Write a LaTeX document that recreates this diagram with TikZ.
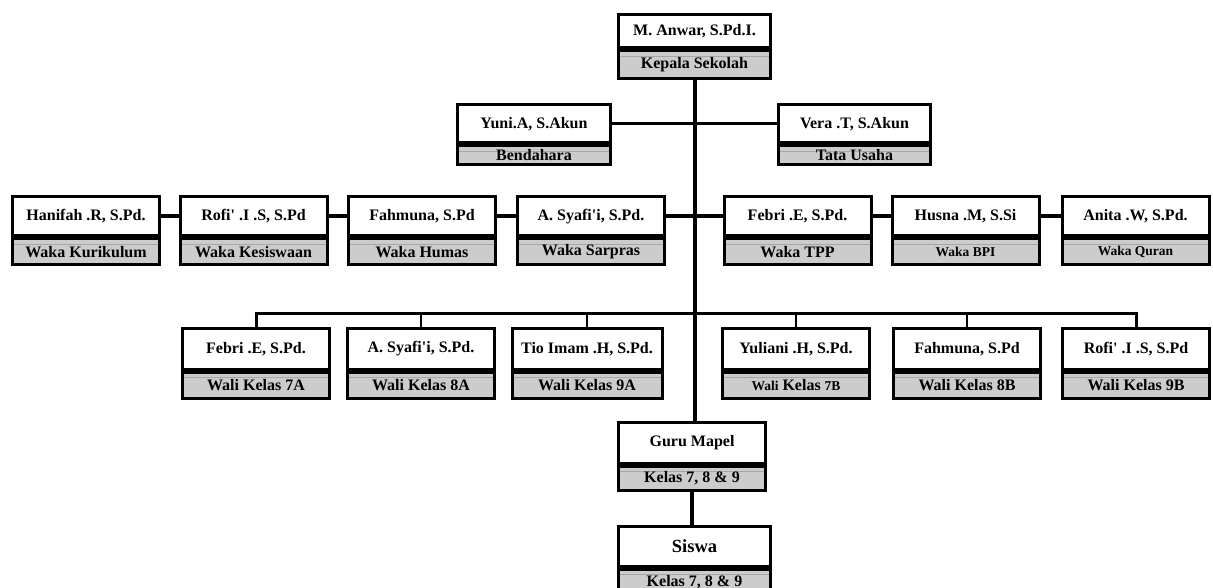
\documentclass[tikz,border=0pt]{standalone}
\usepackage{fontspec}
\setmainfont{Liberation Serif}
\usetikzlibrary{positioning}

\begin{document}
\begin{tikzpicture}[x=1pt, y=-1pt,
            namebox/.style={rectangle, draw, line width=3pt, fill=white, inner sep=0pt, minimum width=147pt, font=\fontsize{16}{19}\selectfont\bfseries},
            rolebox/.style={rectangle, draw, line width=3pt, fill=gray!40, inner sep=0pt, minimum width=147pt, font=\fontsize{16}{19}\selectfont\bfseries,
                path picture={\draw[gray!70, line width=1.5pt] ([yshift=-5.5pt]path picture bounding box.north west) -- ([yshift=-5.5pt]path picture bounding box.north east);}},
            link/.style={line width=3pt},
            trunk/.style={line width=4pt},
            smallrole/.style={font=\fontsize{13.5}{16}\selectfont\bfseries},
            ]
            \useasboundingbox (0,0) rectangle (1213,588);
            % kepala sekolah
            \node[namebox, minimum width=152pt, minimum height=33.5pt] (kepsek) at (694.5,31.25) {M. Anwar, S.Pd.I.};
            \node[rolebox, minimum width=152pt, minimum height=27.5pt, below=0pt of kepsek] (kepsek-lbl) {Kepala Sekolah};
            % bendahara dan tata usaha
            \node[namebox, minimum width=153pt, minimum height=38.5pt] (bendahara) at (534,123.75) {Yuni.A, S.Akun};
            \node[rolebox, minimum width=153pt, minimum height=18.5pt, below=0pt of bendahara] (bendahara-lbl) {Bendahara};
            \node[namebox, minimum width=152pt, minimum height=38.5pt] (tu) at (854.5,123.75) {Vera .T, S.Akun};
            \node[rolebox, minimum width=152pt, minimum height=18.5pt, below=0pt of tu] (tu-lbl) {Tata Usaha};
            % wakil kepala
            \node[namebox, minimum height=39.5pt] (kurikulum) at (86,216.25) {Hanifah .R, S.Pd.};
            \node[rolebox, minimum height=25.5pt, below=0pt of kurikulum] (kurikulum-lbl) {Waka Kurikulum};
            \node[namebox, minimum height=39.5pt] (kesiswaan) at (253.5,216.25) {Rofi\textquotesingle{} .I .S, S.Pd};
            \node[rolebox, minimum height=25.5pt, below=0pt of kesiswaan] (kesiswaan-lbl) {Waka Kesiswaan};
            \node[namebox, minimum height=39.5pt] (humas) at (422,216.25) {Fahmuna, S.Pd};
            \node[rolebox, minimum height=25.5pt, below=0pt of humas] (humas-lbl) {Waka Humas};
            \node[namebox, minimum height=39.5pt] (sarpras) at (591,216.25) {A. Syafi\textquotesingle{}i, S.Pd.};
            \node[rolebox, minimum height=25.5pt, below=0pt of sarpras] (sarpras-lbl) {Waka Sarpras};
            \node[namebox, minimum height=39.5pt] (tpp) at (797.5,216.25) {Febri .E, S.Pd.};
            \node[rolebox, minimum height=25.5pt, below=0pt of tpp] (tpp-lbl) {Waka TPP};
            \node[namebox, minimum height=39.5pt] (bpi) at (965.5,216.25) {Husna .M, S.Si};
            \node[rolebox, smallrole, minimum height=25.5pt, below=0pt of bpi] (bpi-lbl) {Waka BPI};
            \node[namebox, minimum height=39.5pt] (quran) at (1135.5,216.25) {Anita .W, S.Pd.};
            \node[rolebox, smallrole, minimum height=25.5pt, below=0pt of quran] (quran-lbl) {Waka Quran};
            % wali kelas
            \node[namebox, minimum height=40.5pt] (wk7a) at (256,348.75) {Febri .E, S.Pd.};
            \node[rolebox, minimum height=26.5pt, below=0pt of wk7a] (wk7a-lbl) {Wali Kelas 7A};
            \node[namebox, minimum height=40.5pt] (wk8a) at (421,348.75) {A. Syafi\textquotesingle{}i, S.Pd.};
            \node[rolebox, minimum height=26.5pt, below=0pt of wk8a] (wk8a-lbl) {Wali Kelas 8A};
            \node[namebox, minimum width=150pt, minimum height=40.5pt] (wk9a) at (587,348.75) {Tio Imam .H, S.Pd.};
            \node[rolebox, minimum width=150pt, minimum height=26.5pt, below=0pt of wk9a] (wk9a-lbl) {Wali Kelas 9A};
            \node[namebox, minimum height=40.5pt] (wk7b) at (796,348.75) {Yuliani .H, S.Pd.};
            \node[rolebox, minimum height=26.5pt, below=0pt of wk7b] (wk7b-lbl) {{\fontsize{13.5}{16}\selectfont Wali} Kelas {\fontsize{13.5}{16}\selectfont 7B}};
            \node[namebox, minimum height=40.5pt] (wk8b) at (967,348.75) {Fahmuna, S.Pd};
            \node[rolebox, minimum height=26.5pt, below=0pt of wk8b] (wk8b-lbl) {Wali Kelas 8B};
            \node[namebox, minimum height=40.5pt] (wk9b) at (1136,348.75) {Rofi\textquotesingle{} .I .S, S.Pd};
            \node[rolebox, minimum height=26.5pt, below=0pt of wk9b] (wk9b-lbl) {Wali Kelas 9B};
            % guru dan siswa
            \node[namebox, minimum height=40.5pt] (guru) at (692,442.75) {Guru Mapel};
            \node[rolebox, minimum height=24.5pt, below=0pt of guru] (guru-lbl) {Kelas 7, 8 \& 9};
            \node[namebox, minimum width=152pt, minimum height=39.5pt, font=\fontsize{18.5}{22}\selectfont\bfseries] (siswa) at (694.5,546.25) {Siswa};
            \node[rolebox, minimum width=152pt, minimum height=26pt, below=0pt of siswa] (siswa-lbl) {Kelas 7, 8 \& 9};
            % garis
            \coordinate (bus) at (694.5,313);
            \draw[trunk] (kepsek-lbl.south) -- (kepsek-lbl.south |- guru.north);
            \draw[link] (bendahara.east) -- (tu.west);
            \foreach \a/\b in {kurikulum/kesiswaan, kesiswaan/humas, humas/sarpras, sarpras/tpp, tpp/bpi, bpi/quran}
                \draw[link, line width=3.5pt] (\a.east) -- (\b.west);
            \draw[link] (wk7a.north) |- (bus) -| (wk9b.north);
            \foreach \n in {wk8a, wk9a, wk7b, wk8b}
                \draw[link, line width=2.5pt] (\n.north) -- (\n.north |- bus);
            \draw[trunk, line width=3.5pt] (guru-lbl.south) -- (guru-lbl.south |- siswa.north);
        \end{tikzpicture}
\end{document}
